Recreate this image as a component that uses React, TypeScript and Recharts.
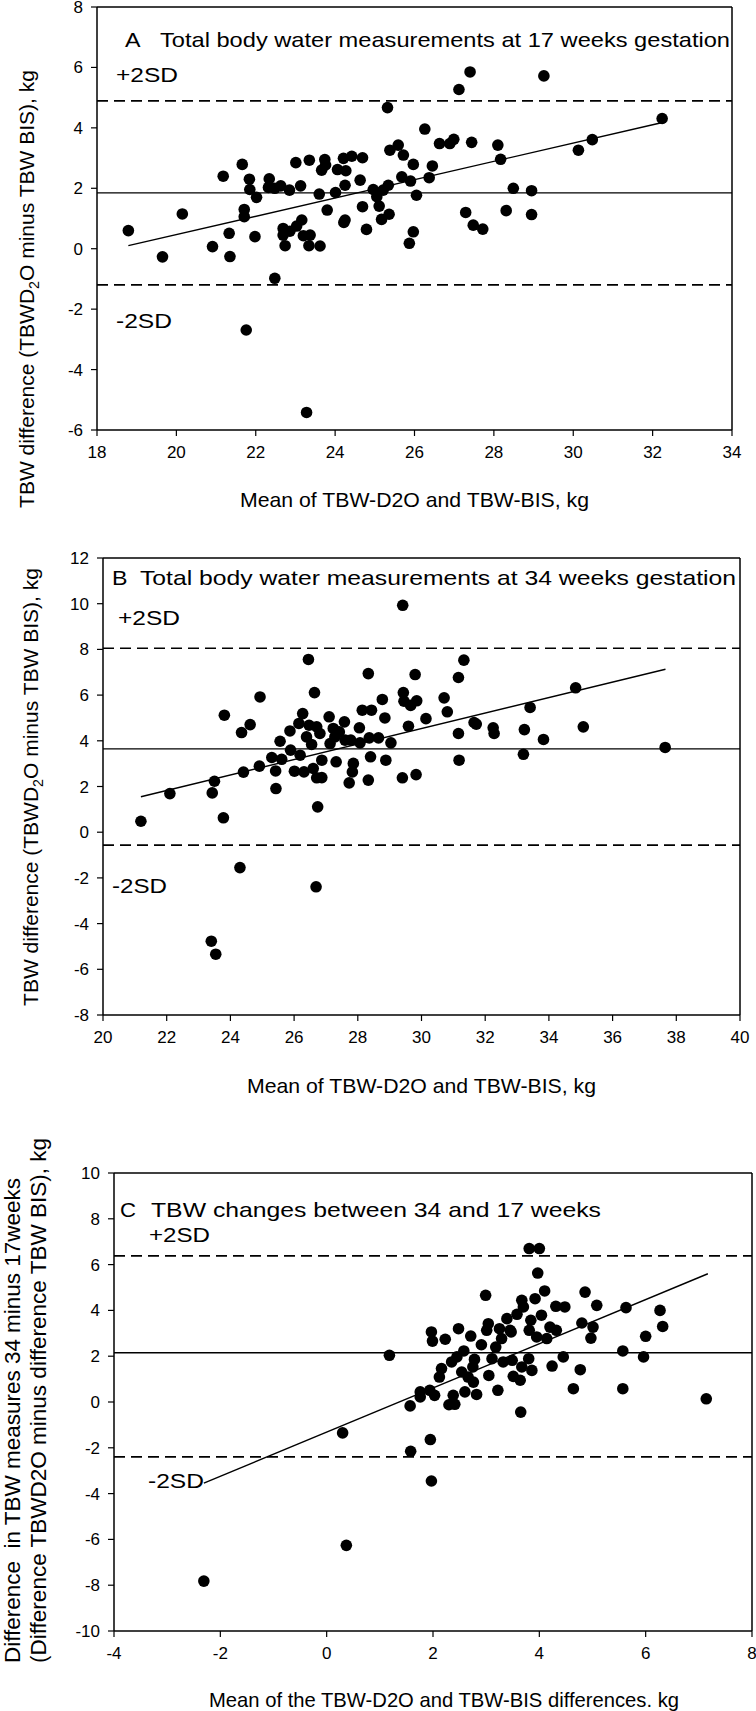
import React from "react";
import { ScatterChart, Scatter, XAxis, YAxis, ReferenceLine, Customized } from "recharts";

const FONT = "'Liberation Sans', Arial, Helvetica, sans-serif";

// Panel A: 17 weeks
const aMean = [18.79, 19.65, 20.15, 20.91, 21.18, 21.33, 21.35, 21.66, 21.71, 21.71, 21.84, 21.85, 21.98, 22.02, 22.34, 22.32, 22.48, 22.63, 22.85, 22.48, 22.69, 22.69, 22.74, 22.86, 23.01, 23.13, 23.03, 23.16, 23.2, 23.35, 23.37, 23.34, 23.62, 23.6, 23.66, 23.74, 23.76, 23.8, 24.01, 24.06, 24.21, 24.25, 24.25, 24.22, 24.42, 24.27, 24.69, 24.63, 24.69, 24.79, 24.96, 25.05, 25.11, 25.17, 25.21, 25.32, 25.38, 25.34, 25.36, 25.59, 25.72, 25.68, 25.9, 25.97, 26.05, 25.97, 25.87, 26.26, 26.45, 26.37, 26.63, 26.89, 26.99, 27.12, 27.4, 27.29, 27.44, 27.48, 27.72, 28.1, 28.17, 28.31, 28.49, 28.95, 28.95, 29.26, 30.13, 30.48, 32.24, 21.76, 23.28];
const aDiff = [0.6, -0.27, 1.15, 0.07, 2.4, 0.51, -0.26, 2.79, 1.3, 1.06, 2.3, 1.96, 0.4, 1.7, 2.31, 2.03, 2.0, 2.08, 1.94, -0.98, 0.67, 0.45, 0.1, 0.58, 2.85, 2.08, 0.75, 0.95, 0.43, 2.93, 0.45, 0.1, 0.09, 1.81, 2.6, 2.95, 2.77, 1.28, 1.86, 2.62, 2.99, 2.1, 0.95, 0.87, 3.06, 2.58, 3.01, 2.27, 1.39, 0.64, 1.96, 1.72, 1.41, 0.97, 1.94, 4.67, 3.26, 2.1, 1.14, 3.43, 3.1, 2.38, 2.24, 2.79, 1.77, 0.56, 0.18, 3.96, 2.74, 2.35, 3.48, 3.48, 3.62, 5.27, 5.85, 1.2, 3.52, 0.78, 0.65, 3.43, 2.96, 1.26, 2.0, 1.92, 1.13, 5.72, 3.26, 3.61, 4.31, -2.69, -5.42];
const aLimits = [1.85, 4.89, -1.2]; // mean, +2SD, -2SD
const aFit = [[18.79, 0.1], [32.22, 4.17]];
const aXTicks = [18, 20, 22, 24, 26, 28, 30, 32, 34];
const aYTicks = [-6, -4, -2, 0, 2, 4, 6, 8];

// Panel B: 34 weeks
const bMean = [21.19, 22.1, 23.43, 23.5, 23.78, 23.81, 24.35, 24.62, 24.41, 24.91, 24.93, 25.3, 25.42, 25.43, 25.56, 25.61, 25.87, 25.89, 26.01, 26.15, 26.19, 26.27, 26.31, 26.39, 26.45, 26.47, 26.55, 26.6, 26.64, 26.71, 26.71, 26.74, 26.81, 26.87, 26.87, 27.1, 27.13, 27.23, 27.28, 27.32, 27.42, 27.58, 27.6, 27.78, 27.86, 27.83, 27.73, 28.05, 28.07, 28.14, 28.33, 28.36, 28.4, 28.43, 28.33, 28.65, 28.77, 28.85, 28.88, 29.04, 29.41, 29.4, 29.43, 29.45, 29.66, 29.85, 29.59, 29.8, 29.83, 30.14, 30.71, 30.81, 31.16, 31.33, 31.16, 31.18, 31.65, 31.72, 32.25, 32.28, 33.23, 33.2, 33.41, 33.83, 34.84, 35.08, 37.65, 24.3, 23.4, 23.54, 26.69];
const bDiff = [0.48, 1.69, 1.72, 2.23, 0.63, 5.12, 4.36, 4.71, 2.63, 2.89, 5.92, 3.27, 2.68, 1.91, 3.98, 3.19, 4.43, 3.59, 2.67, 4.76, 3.37, 5.19, 2.64, 4.17, 7.56, 4.68, 3.84, 2.79, 6.11, 4.61, 2.38, 1.11, 4.32, 3.15, 2.39, 5.05, 3.88, 4.54, 4.17, 3.08, 4.39, 4.83, 4.03, 4.03, 3.01, 2.64, 2.16, 4.57, 3.91, 5.34, 6.94, 4.13, 3.3, 5.34, 2.28, 4.13, 5.81, 5.0, 3.15, 3.91, 9.93, 2.38, 6.11, 5.73, 5.55, 5.75, 4.64, 6.9, 2.52, 4.97, 5.88, 5.27, 6.77, 7.53, 4.32, 3.15, 4.8, 4.73, 4.57, 4.32, 4.49, 3.41, 5.46, 4.06, 6.32, 4.61, 3.71, -1.55, -4.77, -5.34, -2.39];
const bLimits = [3.65, 8.05, -0.57];
const bFit = [[21.19, 1.55], [37.66, 7.13]];
const bXTicks = [20, 22, 24, 26, 28, 30, 32, 34, 36, 38, 40];
const bYTicks = [-8, -6, -4, -2, 0, 2, 4, 6, 8, 10, 12];

// Panel C: change between 34 and 17 weeks
const cMean = [0.3, 1.18, 1.57, 1.58, 1.76, 1.76, 1.94, 1.95, 1.97, 1.99, 2.03, 2.12, 2.16, 2.23, 2.3, 2.38, 2.41, 2.48, 2.35, 2.45, 2.58, 2.54, 2.6, 2.71, 2.66, 2.76, 2.78, 2.75, 2.82, 2.91, 2.99, 3.01, 3.04, 3.05, 3.11, 3.18, 3.22, 3.25, 3.29, 3.32, 3.39, 3.45, 3.49, 3.51, 3.47, 3.58, 3.64, 3.65, 3.67, 3.67, 3.7, 3.8, 3.81, 3.84, 3.86, 3.81, 4.0, 3.97, 3.92, 3.95, 4.04, 4.1, 4.14, 4.2, 4.24, 4.31, 4.32, 4.45, 4.48, 4.77, 4.64, 4.8, 4.86, 4.97, 5.01, 5.08, 5.57, 5.57, 5.63, 5.96, 6.0, 6.27, 6.32, 7.14, 1.97, 0.37, -2.31];
const cDiff = [-1.35, 2.04, -0.17, -2.15, 0.22, 0.44, 0.51, -1.64, 3.06, 2.66, 0.29, 1.09, 1.46, 2.74, -0.12, 0.29, -0.1, 3.2, 1.75, 1.97, 2.23, 1.31, 0.44, 2.88, 1.09, 0.87, 1.86, 1.53, 0.33, 2.5, 4.66, 3.13, 3.42, 1.16, 1.89, 2.4, 0.51, 3.2, 2.77, 1.75, 3.64, 3.13, 1.82, 1.12, 3.06, 3.83, 0.95, -0.44, 4.44, 1.53, 4.15, 1.89, 3.13, 3.57, 1.38, 6.7, 6.7, 5.63, 4.51, 2.84, 3.79, 4.85, 2.77, 3.27, 1.57, 4.18, 3.13, 1.97, 4.15, 1.41, 0.58, 3.45, 4.8, 2.79, 3.27, 4.22, 2.23, 0.58, 4.12, 1.97, 2.87, 4.0, 3.3, 0.14, -3.45, -6.26, -7.82];
const cLimits = [2.15, 6.38, -2.4];
const cFit = [[-2.31, -3.54], [7.17, 5.6]];
const cXTicks = [-4, -2, 0, 2, 4, 6, 8];
const cYTicks = [-10, -8, -6, -4, -2, 0, 2, 4, 6, 8, 10];

type Txt = { t: string; x: number; y: number; size?: number; len?: number; rot?: boolean; anchor?: string; sub?: [string, string, string] };

const Texts = ({ items }: { items: Txt[] }) => (
  <g fontFamily={FONT} fill="#000">
    {items.map((d, i) => {
      const size = d.size ?? 21;
      const props: any = {
        x: d.x,
        y: d.y,
        fontSize: size,
        textAnchor: d.anchor ?? "start",
        xmlSpace: "preserve",
        style: { whiteSpace: "pre" },
      };
      if (d.len) {
        props.textLength = d.len;
        props.lengthAdjust = "spacingAndGlyphs";
      }
      if (d.rot) props.transform = `rotate(-90 ${d.x} ${d.y})`;
      if (d.sub) {
        return (
          <text key={i} {...props}>
            <tspan>{d.sub[0]}</tspan>
            <tspan dy={5} fontSize={size * 0.68}>{d.sub[1]}</tspan>
            <tspan dy={-5}>{d.sub[2]}</tspan>
          </text>
        );
      }
      return <text key={i} {...props}>{d.t}</text>;
    })}
  </g>
);

const dot = (p: any) => <circle cx={p.cx} cy={p.cy} r={5.8} fill="#000" />;

const zip = (xs: number[], ys: number[]) => xs.map((x, i) => ({ x, y: ys[i] }));

const yLab: [string, string, string] = ["TBW difference (TBWD", "2", "O minus TBW BIS), kg"];

type PanelProps = {
  top: number;
  height: number;
  margin: { top: number; right: number; bottom: number; left: number };
  xs: number[];
  ys: number[];
  limits: number[];
  fit: number[][];
  xTicks: number[];
  yTicks: number[];
  texts: Txt[];
};

function Panel({ top, height, margin, xs, ys, limits, fit, xTicks, yTicks, texts }: PanelProps) {
  const xd: [number, number] = [xTicks[0], xTicks[xTicks.length - 1]];
  const yd: [number, number] = [yTicks[0], yTicks[yTicks.length - 1]];
  const tick = { fill: "#000", fontSize: 17, fontFamily: FONT };
  return (
    <div style={{ position: "absolute", left: 0, top, width: 756, height }}>
      <ScatterChart width={756} height={height} margin={margin}>
        <XAxis
          type="number"
          dataKey="x"
          domain={xd}
          ticks={xTicks}
          interval={0}
          height={30}
          tick={tick}
          tickSize={6}
          tickMargin={10}
          axisLine={{ stroke: "#000", strokeWidth: 1.5 }}
          tickLine={{ stroke: "#000", strokeWidth: 1.2 }}
        />
        <YAxis
          type="number"
          dataKey="y"
          domain={yd}
          ticks={yTicks}
          interval={0}
          width={40}
          tick={tick}
          tickSize={6}
          tickMargin={8}
          axisLine={{ stroke: "#000", strokeWidth: 1.5 }}
          tickLine={{ stroke: "#000", strokeWidth: 1.2 }}
        />
        <ReferenceLine y={yd[1]} stroke="#000" strokeWidth={1.5} />
        <ReferenceLine x={xd[1]} stroke="#000" strokeWidth={1.5} />
        <ReferenceLine y={limits[0]} stroke="#000" strokeWidth={1.3} />
        <ReferenceLine y={limits[1]} stroke="#000" strokeWidth={1.7} strokeDasharray="11 6" />
        <ReferenceLine y={limits[2]} stroke="#000" strokeWidth={1.7} strokeDasharray="11 6" />
        <ReferenceLine
          segment={[{ x: fit[0][0], y: fit[0][1] }, { x: fit[1][0], y: fit[1][1] }]}
          stroke="#000"
          strokeWidth={1.4}
        />
        <Scatter data={zip(xs, ys)} shape={dot} isAnimationActive={false} />
        <Customized component={<Texts items={texts} />} />
      </ScatterChart>
    </div>
  );
}

const aTexts: Txt[] = [
  { t: "A", x: 125, y: 47, len: 15.5 },
  { t: "Total body water measurements at 17 weeks gestation", x: 160, y: 47, len: 570 },
  { t: "+2SD", x: 116, y: 82, len: 62 },
  { t: "-2SD", x: 116, y: 328, len: 56 },
  { t: "Mean of TBW-D2O and TBW-BIS, kg", x: 240, y: 507, len: 349 },
  { t: "", x: 34, y: 289, rot: true, anchor: "middle", sub: yLab },
];

const bTexts: Txt[] = [
  { t: "B", x: 112, y: 45, len: 15.5 },
  { t: "Total body water measurements at 34 weeks gestation", x: 140, y: 45, len: 596 },
  { t: "+2SD", x: 118, y: 85, len: 62 },
  { t: "-2SD", x: 112, y: 353, len: 55 },
  { t: "Mean of TBW-D2O and TBW-BIS, kg", x: 247, y: 553, len: 349 },
  { t: "", x: 38, y: 247, rot: true, anchor: "middle", sub: yLab },
];

const cTexts: Txt[] = [
  { t: "C", x: 120, y: 107, len: 16 },
  { t: "TBW changes between 34 and 17 weeks", x: 151, y: 107, len: 450 },
  { t: "+2SD", x: 149, y: 132, len: 61 },
  { t: "-2SD", x: 148, y: 378, len: 56 },
  { t: "Mean of the TBW-D2O and TBW-BIS differences. kg", x: 209, y: 597, len: 470 },
  { t: "Difference  in TBW measures 34 minus 17weeks", x: 20, y: 553, rot: true, size: 22, len: 485 },
  { t: "(Difference TBWD2O minus difference TBW BIS), kg", x: 46, y: 553, rot: true, size: 22, len: 525 },
];

export default function App() {
  return (
    <div style={{ position: "absolute", left: 0, top: 0, width: 756, height: 1711, background: "#fff" }}>
      <Panel
        top={0}
        height={540}
        margin={{ top: 7, right: 24, bottom: 80, left: 57 }}
        xs={aMean}
        ys={aDiff}
        limits={aLimits}
        fit={aFit}
        xTicks={aXTicks}
        yTicks={aYTicks}
        texts={aTexts}
      />
      <Panel
        top={540}
        height={570}
        margin={{ top: 18, right: 16, bottom: 65, left: 63 }}
        xs={bMean}
        ys={bDiff}
        limits={bLimits}
        fit={bFit}
        xTicks={bXTicks}
        yTicks={bYTicks}
        texts={bTexts}
      />
      <Panel
        top={1110}
        height={601}
        margin={{ top: 63, right: 4, bottom: 50, left: 74 }}
        xs={cMean}
        ys={cDiff}
        limits={cLimits}
        fit={cFit}
        xTicks={cXTicks}
        yTicks={cYTicks}
        texts={cTexts}
      />
    </div>
  );
}
